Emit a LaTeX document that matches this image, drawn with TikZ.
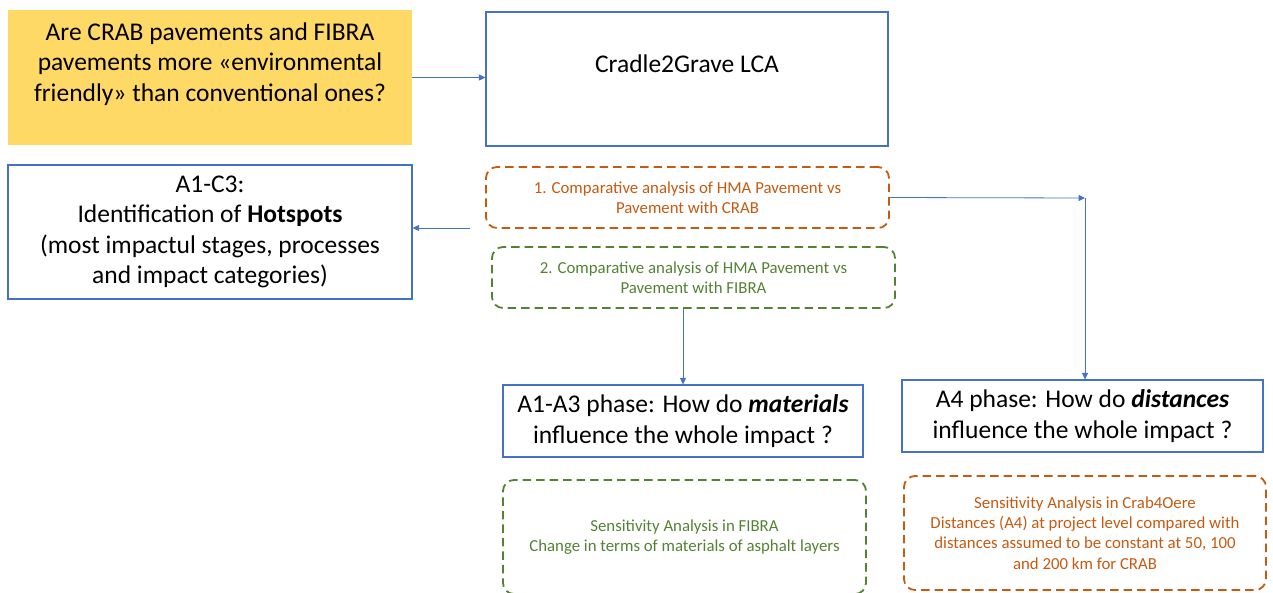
\documentclass[tikz,border=0pt]{standalone}
\usepackage{fontspec}
\setmainfont{Carlito}
\usetikzlibrary{arrows.meta}
\definecolor{lcablue}{HTML}{4472C4}
\definecolor{lcaorange}{HTML}{C55A11}
\definecolor{lcagreen}{HTML}{548235}
\definecolor{lcayellow}{HTML}{FFD966}
\tikzset{
  bigtext/.style={font=\fontsize{25.5}{30.5}\selectfont, align=center},
  smalltext/.style={font=\fontsize{16.8}{20.3}\selectfont, align=center},
  questionbox/.style={fill=lcayellow, inner sep=0pt},
  bluebox/.style={bigtext, draw=lcablue, line width=1.1pt, fill=white, inner sep=0pt},
  dashbox/.style={smalltext, line width=1.8pt, dash pattern=on 8.5pt off 5pt,
                  rounded corners=11pt, inner sep=0pt},
  orangebox/.style={dashbox, draw=lcaorange, text=lcaorange},
  greenbox/.style={dashbox, draw=lcagreen, text=lcagreen},
  arr/.style={draw=lcablue, line width=0.8pt, -{Triangle[length=6.5pt,width=6pt]}}
}
\begin{document}
\begin{tikzpicture}[x=1pt,y=-1pt]
\useasboundingbox (0,0) rectangle (1273,592);
\clip (0,0) rectangle (1273,592);

% top row: question and LCA scope
\node[questionbox, minimum width=404pt, minimum height=135pt] (q) at (210,77.5) {};
\node[bigtext] (qtext) at (210,64)
  {Are CRAB pavements and FIBRA\\pavements more «environmental\\friendly» than conventional ones?};
\node[bluebox, minimum width=402pt, minimum height=134pt] (c) at (687,79) {};
\node[bigtext] (ctext) at (687,64) {Cradle2Grave LCA};

% hotspots
\node[bluebox, minimum width=404pt, minimum height=134pt] (h) at (210,232)
  {A1-C3:\\Identification of \textbf{Hotspots}\\(most impactul stages, processes\\and impact categories)};

% comparative analyses
\node[orangebox, minimum width=403pt, minimum height=61pt] (o1) at (687.5,197.5)
  {1. Comparative analysis of HMA Pavement vs\\Pavement with CRAB};
\node[greenbox, minimum width=403pt, minimum height=61pt] (g1) at (693.5,277.5)
  {2. Comparative analysis of HMA Pavement vs\\Pavement with FIBRA};

% phases
\node[bluebox, minimum width=360pt, minimum height=72pt] (m) at (683,421)
  {A1-A3 phase: How do \textbf{\textit{materials}}\\influence the whole impact ?};
\node[bluebox, minimum width=361pt, minimum height=72pt] (d) at (1082.5,416)
  {A4 phase: How do \textbf{\textit{distances}}\\influence the whole impact ?};

% sensitivity analyses
\node[greenbox, minimum width=363pt, minimum height=114pt] (g2) at (684.5,537)
  {Sensitivity Analysis in FIBRA\\Change in terms of materials of asphalt layers};
\node[orangebox, minimum width=362pt, minimum height=114pt] (o2) at (1085,533)
  {Sensitivity Analysis in Crab4Oere\\Distances (A4) at project level compared with\\distances assumed to be constant at 50, 100\\and 200 km for CRAB};

% connectors
\draw[arr] (q.east) -- (q.east -| c.west);
\coordinate (hs) at (470,228);
\draw[arr] (hs) -- (hs -| h.east);
\coordinate (bend) at (1085,198);
\draw[arr] (o1.east) -- (bend);
\draw[arr] (bend) -- (bend |- d.north);
\draw[arr] (m.north |- g1.south) -- (m.north);
\end{tikzpicture}
\end{document}
